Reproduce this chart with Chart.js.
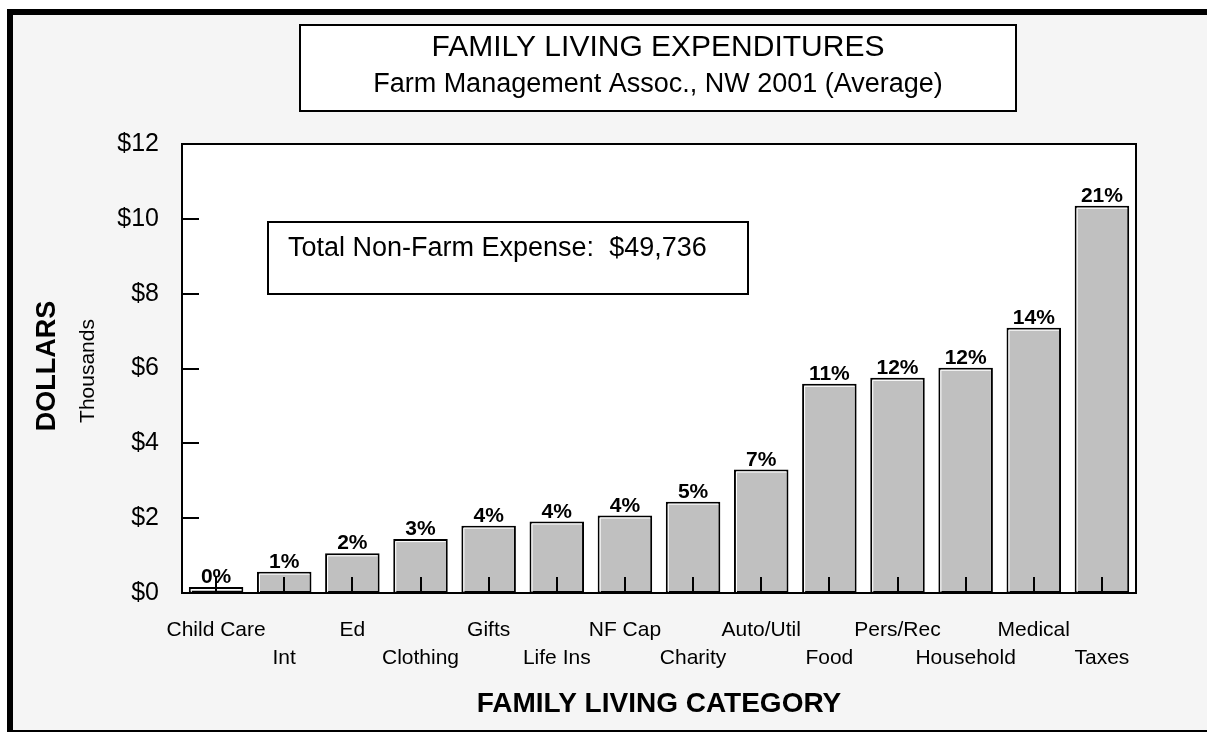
<!DOCTYPE html>
<html lang="en">
<head>
  <meta charset="UTF-8" />
  <title>Family Living Expenditures</title>
  <script src="https://cdn.jsdelivr.net/npm/chart.js"></script>
  <style>
    body { margin: 0; background: #fff; width: 1207px; height: 732px; overflow: hidden; position: relative; }
    .frame {
      position: absolute; left: 7px; top: 9px; width: 1300px; height: 723px; box-sizing: border-box;
      border-left: 6px solid #000; border-top: 6px solid #000; border-bottom: 2px solid #000;
      background: #f5f5f5;
    }
    #chart { position: absolute; left: 0; top: 0; }
  </style>
</head>
<body>
<div class="frame"></div>
<canvas id="chart" width="1207" height="732"></canvas>

<script>
// family living spending, $ thousands
const categories = ['Child Care', 'Int', 'Ed', 'Clothing', 'Gifts', 'Life Ins', 'NF Cap',
                    'Charity', 'Auto/Util', 'Food', 'Pers/Rec', 'Household', 'Medical', 'Taxes'];
const expenses = [0.16, 0.57, 1.06, 1.44, 1.80, 1.91, 2.07, 2.44, 3.30, 5.59, 5.75, 6.02, 7.09, 10.35];
const shares = ['0%', '1%', '2%', '3%', '4%', '4%', '4%', '5%', '7%', '11%', '12%', '12%', '14%', '21%'];
const totalNote = 'Total Non-Farm Expense:  $49,736';

const FONT = '"Liberation Sans", Arial, sans-serif';
Chart.defaults.font.family = FONT;
Chart.defaults.color = '#000';

const decor = {
  id: 'decor',
  beforeDatasetsDraw(chart) {
    const { ctx, chartArea: a } = chart;
    ctx.save();
    ctx.fillStyle = '#fff';
    ctx.fillRect(a.left, a.top, a.right - a.left, a.bottom - a.top);
    // total box
    ctx.strokeStyle = '#000';
    ctx.lineWidth = 2;
    ctx.strokeRect(268, 222, 480, 72);
    ctx.fillStyle = '#000';
    ctx.font = '27px ' + FONT;
    ctx.textAlign = 'left';
    ctx.textBaseline = 'middle';
    ctx.fillText(totalNote, 288, 249);
    ctx.restore();
  },
  afterDatasetsDraw(chart) {
    const { ctx, chartArea: a, scales: { x, y } } = chart;
    const bars = chart.getDatasetMeta(0).data;
    ctx.save();
    // white bevel inside each bar
    ctx.strokeStyle = '#fff';
    ctx.lineWidth = 1;
    bars.forEach(b => {
      const l = b.x - b.width / 2, r = b.x + b.width / 2;
      ctx.beginPath();
      ctx.moveTo(l + 2.5, b.base);
      ctx.lineTo(l + 2.5, b.y + 2.5);
      ctx.lineTo(r - 2, b.y + 2.5);
      ctx.stroke();
    });
    // percent labels
    ctx.fillStyle = '#000';
    ctx.font = 'bold 21px ' + FONT;
    ctx.textAlign = 'center';
    ctx.textBaseline = 'alphabetic';
    bars.forEach((b, i) => ctx.fillText(shares[i], b.x, b.y - 4));
    // inner tick marks + plot frame
    ctx.strokeStyle = '#000';
    ctx.lineWidth = 2;
    ctx.beginPath();
    x.ticks.forEach((t, i) => {
      const px = Math.round(x.getPixelForTick(i));
      ctx.moveTo(px, a.bottom);
      ctx.lineTo(px, a.bottom - 16);
    });
    y.ticks.forEach((t, i) => {
      const py = Math.round(y.getPixelForTick(i));
      ctx.moveTo(a.left, py);
      ctx.lineTo(a.left + 17, py);
    });
    ctx.stroke();
    ctx.strokeRect(a.left, a.top, a.right - a.left, a.bottom - a.top);
    ctx.restore();
  },
  afterDraw(chart) {
    const { ctx } = chart;
    ctx.save();
    // title box
    ctx.fillStyle = '#fff';
    ctx.fillRect(300, 25, 716, 86);
    ctx.strokeStyle = '#000';
    ctx.lineWidth = 2;
    ctx.strokeRect(300, 25, 716, 86);
    ctx.fillStyle = '#000';
    ctx.textAlign = 'center';
    ctx.textBaseline = 'middle';
    ctx.font = '30px ' + FONT;
    ctx.fillText('FAMILY LIVING EXPENDITURES', 658, 48);
    ctx.font = '27px ' + FONT;
    ctx.fillText('Farm Management Assoc., NW 2001 (Average)', 658, 85);
    // y axis titles
    ctx.translate(48, 366);
    ctx.rotate(-Math.PI / 2);
    ctx.font = 'bold 27px ' + FONT;
    ctx.fillText('DOLLARS', 0, 0);
    ctx.font = '21px ' + FONT;
    ctx.fillText('Thousands', -5, 40);
    ctx.restore();
  }
};

new Chart(document.getElementById('chart'), {
  type: 'bar',
  data: {
    labels: categories,
    datasets: [{
      data: expenses,
      backgroundColor: '#c0c0c0',
      borderColor: '#000',
      borderWidth: 2,
      borderSkipped: false,
      categoryPercentage: 1,
      barPercentage: 0.8
    }]
  },
  options: {
    responsive: false,
    animation: false,
    layout: { padding: { top: 144, right: 71, left: 0, bottom: 0 } },
    plugins: { legend: { display: false }, tooltip: { enabled: false } },
    scales: {
      x: {
        grid: { display: false, drawTicks: false },
        border: { display: false },
        ticks: {
          autoSkip: false,
          maxRotation: 0,
          padding: 23,
          font: { size: 21, lineHeight: 1.33 },
          callback: (v, i) => i % 2 === 0 ? [categories[i], ''] : ['', categories[i]]
        },
        title: {
          display: true,
          text: 'FAMILY LIVING CATEGORY',
          font: { size: 28, weight: 'bold' },
          padding: { top: 0, bottom: 11 }
        },
        afterFit: s => { s.height = 139; }
      },
      y: {
        min: 0,
        max: 12,
        grid: { display: false, drawTicks: false },
        border: { display: false },
        ticks: {
          stepSize: 2,
          padding: 23,
          font: { size: 25 },
          callback: v => '$' + v
        },
        afterFit: s => { s.width = 182; }
      }
    }
  },
  plugins: [decor]
});
</script>
</body>
</html>
